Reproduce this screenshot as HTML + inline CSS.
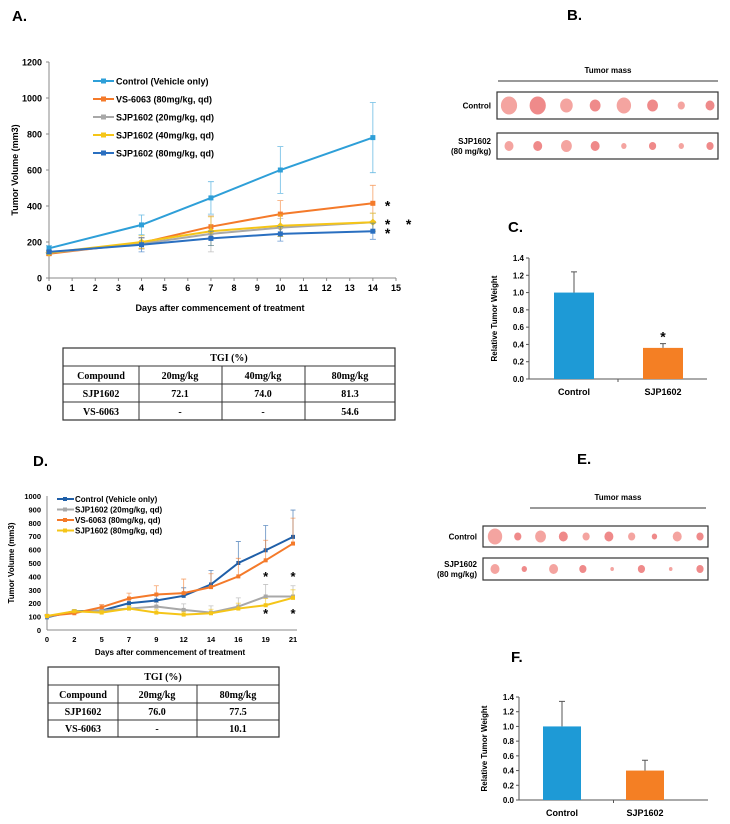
<!DOCTYPE html>
<html><head><meta charset="utf-8"><style>
body{margin:0;background:#fff;}
svg{display:block;font-family:"Liberation Sans",Arial,sans-serif;}
.tb{font-family:"Liberation Serif",serif;font-weight:bold;font-size:10px;}
</style></head><body>
<svg id="fig" width="730" height="824" viewBox="0 0 730 824">
<g font-weight="bold" font-size="15">
<text x="12" y="21">A.</text>
<text x="567" y="20">B.</text>
<text x="508" y="232">C.</text>
<text x="33" y="466">D.</text>
<text x="577" y="464">E.</text>
<text x="511" y="662">F.</text>
</g>
<g id="gA"></g><g id="gD"></g><g id="gC"></g><g id="gF"></g><g id="gB"></g><g id="gE"></g>
<!-- Table A -->
<g class="tb" fill="#000" stroke="none">
<rect x="63" y="348" width="332" height="72" fill="none" stroke="#333" stroke-width="1.2"/>
<line x1="63" y1="366" x2="395" y2="366" stroke="#333"/><line x1="63" y1="384" x2="395" y2="384" stroke="#333"/><line x1="63" y1="402" x2="395" y2="402" stroke="#333"/>
<line x1="139" y1="366" x2="139" y2="420" stroke="#333"/><line x1="222" y1="366" x2="222" y2="420" stroke="#333"/><line x1="305" y1="366" x2="305" y2="420" stroke="#333"/>
<g text-anchor="middle">
<text x="229" y="361">TGI (%)</text>
<text x="101" y="379">Compound</text><text x="180" y="379">20mg/kg</text><text x="263" y="379">40mg/kg</text><text x="350" y="379">80mg/kg</text>
<text x="101" y="397">SJP1602</text><text x="180" y="397">72.1</text><text x="263" y="397">74.0</text><text x="350" y="397">81.3</text>
<text x="101" y="415">VS-6063</text><text x="180" y="415">-</text><text x="263" y="415">-</text><text x="350" y="415">54.6</text>
</g></g>
<!-- Table D -->
<g class="tb">
<rect x="48" y="667" width="231" height="70" fill="none" stroke="#333" stroke-width="1.2"/>
<line x1="48" y1="685" x2="279" y2="685" stroke="#333"/><line x1="48" y1="703" x2="279" y2="703" stroke="#333"/><line x1="48" y1="720" x2="279" y2="720" stroke="#333"/>
<line x1="118" y1="685" x2="118" y2="737" stroke="#333"/><line x1="197" y1="685" x2="197" y2="737" stroke="#333"/>
<g text-anchor="middle">
<text x="163" y="680">TGI (%)</text>
<text x="83" y="698">Compound</text><text x="157" y="698">20mg/kg</text><text x="238" y="698">80mg/kg</text>
<text x="83" y="715">SJP1602</text><text x="157" y="715">76.0</text><text x="238" y="715">77.5</text>
<text x="83" y="732">VS-6063</text><text x="157" y="732">-</text><text x="238" y="732">10.1</text>
</g></g>
</svg>
<script>
// Panel A data
const daysA=[0,4,7,10,14];
const ctrlA=[165,295,445,600,780], ctrlAErr=[15,55,90,130,195];
const vsA=[135,195,285,355,415], vsAErr=[10,30,60,75,100];
const sjp20A=[140,190,245,280,310], sjp20AErr=[10,30,100,50,50];
const sjp40A=[140,200,260,290,310], sjp40AErr=[10,35,80,60,50];
const sjp80A=[145,185,220,245,260], sjp80AErr=[10,40,40,40,45];
const ticksAY=[0,200,400,600,800,1000,1200];
const ticksAX=[0,1,2,3,4,5,6,7,8,9,10,11,12,13,14,15];
// Panel D data
const daysD=['0','2','5','7','9','12','14','16','19','21'];
const ctrlD=[95,140,145,200,220,255,340,500,595,695], ctrlDErr=[10,10,20,30,40,60,105,160,185,200];
const sjp20D=[100,135,145,160,175,150,130,175,250,250], sjp20DErr=[10,10,20,20,30,45,50,65,90,80];
const vsD=[105,125,170,235,265,275,320,400,520,645], vsDErr=[10,10,20,40,65,105,100,135,150,190];
const sjp80D=[105,140,130,160,130,115,125,160,185,240], sjp80DErr=[10,10,15,20,25,20,30,40,50,60];
const ticksDY=[0,100,200,300,400,500,600,700,800,900,1000];
// Panels C,F
const barCats=['Control','SJP1602'];
const barC=[1.0,0.36], barCErr=[0.24,0.05];
const barF=[1.0,0.40], barFErr=[0.34,0.14];
const ticksBar=[0,0.2,0.4,0.6,0.8,1.0,1.2,1.4];
const tumorCtrlB=[9,9,7,6,8,6,4,5], tumorSjpB=[5,5,6,5,3,4,3,4];
const tumorCtrlE=[8,4,6,5,4,5,4,3,5,4], tumorSjpE=[5,3,5,4,2,4,2,4];

const NS='http://www.w3.org/2000/svg';
function mk(p,t,a,txt){const e=document.createElementNS(NS,t);for(const k in a)e.setAttribute(k,a[k]);if(txt!==undefined)e.textContent=txt;p.appendChild(e);return e;}

// ---------- Panel A ----------
(function(){
const g=document.getElementById('gA');

const xs=d=>49+d*(396-49)/15, ys=v=>278-v*(278-62)/1200;
mk(g,'line',{x1:49,y1:62,x2:49,y2:278,stroke:'#888'});
mk(g,'line',{x1:49,y1:278,x2:396,y2:278,stroke:'#888'});
ticksAY.forEach(t=>{
 mk(g,'line',{x1:46,y1:ys(t),x2:49,y2:ys(t),stroke:'#888'});
 const l=mk(g,'text',{x:42,y:ys(t)+3.5,'text-anchor':'end','font-size':9,'font-weight':'bold'},t);
 
 
});
ticksAX.forEach(t=>{
 mk(g,'line',{x1:xs(t),y1:278,x2:xs(t),y2:281,stroke:'#888'});
 const l=mk(g,'text',{x:xs(t),y:291,'text-anchor':'middle','font-size':9,'font-weight':'bold'},t);
 
 
});
const yt=mk(g,'text',{transform:'translate(18,170) rotate(-90)','text-anchor':'middle','font-size':9,'font-weight':'bold'},'Tumor Volume (mm3)');


const xt=mk(g,'text',{x:220,y:311,'text-anchor':'middle','font-size':9,'font-weight':'bold'},'Days after commencement of treatment');


const series=[
 {v:ctrlA,e:ctrlAErr,c:'#2e9fd8',n:'Control (Vehicle only)',m:'sq'},
 {v:vsA,e:vsAErr,c:'#f47a2a',n:'VS-6063 (80mg/kg, qd)',m:'tri'},
 {v:sjp20A,e:sjp20AErr,c:'#a8a8a8',n:'SJP1602 (20mg/kg, qd)',m:'dia'},
 {v:sjp40A,e:sjp40AErr,c:'#f5c518',n:'SJP1602 (40mg/kg, qd)',m:'dia'},
 {v:sjp80A,e:sjp80AErr,c:'#2a6fc0',n:'SJP1602 (80mg/kg, qd)',m:'x'}];
series.forEach((s,si)=>{
 s.v.forEach((v,i)=>{const x=xs(daysA[i]);
  const eb=mk(g,'path',{d:`M${x},${ys(v)}V${ys(v+s.e[i])}M${x-3},${ys(v+s.e[i])}H${x+3}M${x},${ys(v)}V${ys(v-s.e[i])}M${x-3},${ys(v-s.e[i])}H${x+3}`,stroke:s.c,'stroke-width':0.8,fill:'none',opacity:0.7});
  
  
 });
 const ln=mk(g,'polyline',{points:s.v.map((v,i)=>xs(daysA[i])+','+ys(v)).join(' '),fill:'none',stroke:s.c,'stroke-width':2});
 
 
 s.v.forEach((v,i)=>{const x=xs(daysA[i]),y=ys(v);
  const p=mk(g,'rect',{x:x-2.5,y:y-2.5,width:5,height:5,fill:s.c,transform:s.m=='dia'?`rotate(45 ${x} ${y})`:''});
  
  
 });
 const ly=81+si*18;
 mk(g,'line',{x1:93,y1:ly,x2:114,y2:ly,stroke:s.c,'stroke-width':2});
 mk(g,'rect',{x:101,y:ly-2.5,width:5,height:5,fill:s.c});
 const lt=mk(g,'text',{x:116,y:ly+3.5,'font-size':9,'font-weight':'bold'},s.n);
 
 
});
[[xs(14)+12,ys(415)],[xs(14)+12,ys(310)],[xs(14)+33,ys(310)],[xs(14)+12,ys(260)]].forEach(p=>{
 const s=mk(g,'text',{x:p[0],y:p[1]+7,'font-size':14,'font-weight':'bold'},'*');
 
 
});
})();

// ---------- Panel D ----------
(function(){
const g=document.getElementById('gD');

const step=(293-47)/9;
const xs=i=>47+i*step, ys=v=>630-v*(630-496)/1000;
mk(g,'line',{x1:47,y1:496,x2:47,y2:630,stroke:'#888'});
mk(g,'line',{x1:47,y1:630,x2:297,y2:630,stroke:'#888'});
ticksDY.forEach(t=>{
 const l=mk(g,'text',{x:41,y:ys(t)+3,'text-anchor':'end','font-size':7.5,'font-weight':'bold'},t);
 
 
});
daysD.forEach((t,i)=>{
 const l=mk(g,'text',{x:xs(i),y:642,'text-anchor':'middle','font-size':7.5,'font-weight':'bold'},t);
 
 
});
const yt=mk(g,'text',{transform:'translate(14,563) rotate(-90)','text-anchor':'middle','font-size':8,'font-weight':'bold'},'Tumor Volume (mm3)');


const xt=mk(g,'text',{x:170,y:655,'text-anchor':'middle','font-size':8,'font-weight':'bold'},'Days after commencement of treatment');


const series=[
 {v:ctrlD,e:ctrlDErr,c:'#1f5fa8',n:'Control (Vehicle only)'},
 {v:sjp20D,e:sjp20DErr,c:'#a8a8a8',n:'SJP1602 (20mg/kg, qd)'},
 {v:vsD,e:vsDErr,c:'#f47a2a',n:'VS-6063 (80mg/kg, qd)'},
 {v:sjp80D,e:sjp80DErr,c:'#f5c518',n:'SJP1602 (80mg/kg, qd)'}];
series.forEach((s,si)=>{
 s.v.forEach((v,i)=>{const x=xs(i);
  const eb=mk(g,'path',{d:`M${x},${ys(v)}V${ys(v+s.e[i])}M${x-2.5},${ys(v+s.e[i])}H${x+2.5}`,stroke:s.c,'stroke-width':0.8,fill:'none',opacity:0.7});
  
  
 });
 const ln=mk(g,'polyline',{points:s.v.map((v,i)=>xs(i)+','+ys(v)).join(' '),fill:'none',stroke:s.c,'stroke-width':2});
 
 
 s.v.forEach((v,i)=>{const x=xs(i),y=ys(v);
  const p=mk(g,'rect',{x:x-2,y:y-2,width:4,height:4,fill:s.c});
  
  
 });
 const ly=499+si*10.5;
 mk(g,'line',{x1:57,y1:ly,x2:74,y2:ly,stroke:s.c,'stroke-width':2});
 mk(g,'rect',{x:63,y:ly-2,width:4,height:4,fill:s.c});
 const lt=mk(g,'text',{x:75,y:ly+3,'font-size':8,'font-weight':'bold'},s.n);
 
 
});
[[8,581],[9,581],[8,618],[9,618]].forEach(p=>{
 const s=mk(g,'text',{x:xs(p[0]),y:p[1],'text-anchor':'middle','font-size':13,'font-weight':'bold'},'*');
 
 
});
})();

// ---------- Bar charts ----------
function bars(id,vals,errs,ax,y0,y1,xEnd,bx,bw,star){
 const g=document.getElementById(id);
 
 const ys=v=>y0-v*(y0-y1)/1.4;
 mk(g,'line',{x1:ax,y1:y1,x2:ax,y2:y0,stroke:'#555'});
 mk(g,'line',{x1:ax,y1:y0,x2:xEnd,y2:y0,stroke:'#555'});
 ticksBar.forEach(t=>{
  mk(g,'line',{x1:ax-3,y1:ys(t),x2:ax,y2:ys(t),stroke:'#555'});
  const l=mk(g,'text',{x:ax-5,y:ys(t)+3,'text-anchor':'end','font-size':8,'font-weight':'bold'},t.toFixed(1));
  
  
 });
 const yt=mk(g,'text',{transform:`translate(${ax-32},${(y0+y1)/2}) rotate(-90)`,'text-anchor':'middle','font-size':8,'font-weight':'bold'},'Relative Tumor Weight');
 
 
 const cols=['#1e9ad6','#f47f24'];
 vals.forEach((v,i)=>{
  const x=bx[i];
  const r=mk(g,'rect',{x:x,y:ys(v),width:bw,height:y0-ys(v),fill:cols[i]});
  
  
  mk(g,'path',{d:`M${x+bw/2},${ys(v)}V${ys(v+errs[i])}M${x+bw/2-3},${ys(v+errs[i])}H${x+bw/2+3}`,stroke:'#555','stroke-width':1});
  const l=mk(g,'text',{x:x+bw/2,y:y0+16,'text-anchor':'middle','font-size':9,'font-weight':'bold'},barCats[i]);
  
  
 });
 mk(g,'line',{x1:(ax+xEnd)/2,y1:y0,x2:(ax+xEnd)/2,y2:y0+3,stroke:'#555'});
 if(star){const s=mk(g,'text',{x:bx[1]+bw/2,y:ys(vals[1]+errs[1])-2,'text-anchor':'middle','font-size':14,'font-weight':'bold'},'*');
  
  }
}
bars('gC',barC,barCErr,529,379,258,707,[554,643],40,true);
bars('gF',barF,barFErr,519,800,697,708,[543,626],38,false);

// ---------- Tumor photos ----------
function photos(id,title,lx1,lx2,ly,b1,b2,ctrl,sjp){
 const g=document.getElementById(id);
 
 const t=mk(g,'text',{x:(lx1+lx2)/2,y:ly-8,'text-anchor':'middle','font-size':8,'font-weight':'bold'},title);
 
 
 mk(g,'line',{x1:lx1,y1:ly,x2:lx2,y2:ly,stroke:'#333'});
 [[b1,ctrl,['Control']],[b2,sjp,['SJP1602','(80 mg/kg)']]].forEach(([b,arr,lab])=>{
  const r=mk(g,'rect',{x:b[0],y:b[1],width:b[2],height:b[3],fill:'#fff',stroke:'#333','stroke-width':1.2});
  
  
  lab.forEach((s,i)=>{const l=mk(g,'text',{x:b[0]-6,y:b[1]+b[3]/2+3+(i-(lab.length-1)/2)*10,'text-anchor':'end','font-size':8,'font-weight':'bold'},s);
   
   });
  const n=arr.length, sp=(b[2]-20)/(n-1);
  arr.forEach((rad,i)=>{const e=mk(g,'ellipse',{cx:b[0]+12+i*sp,cy:b[1]+b[3]/2,rx:rad*0.9,ry:rad,fill:i%2?'#ef8a8a':'#f4a4a0'});
   
   });
 });
}
photos('gB','Tumor mass',498,718,81,[497,92,221,27],[497,133,221,26],tumorCtrlB,tumorSjpB);
photos('gE','Tumor mass',530,706,508,[483,526,225,21],[483,558,225,22],tumorCtrlE,tumorSjpE);
</script>
</body></html>
